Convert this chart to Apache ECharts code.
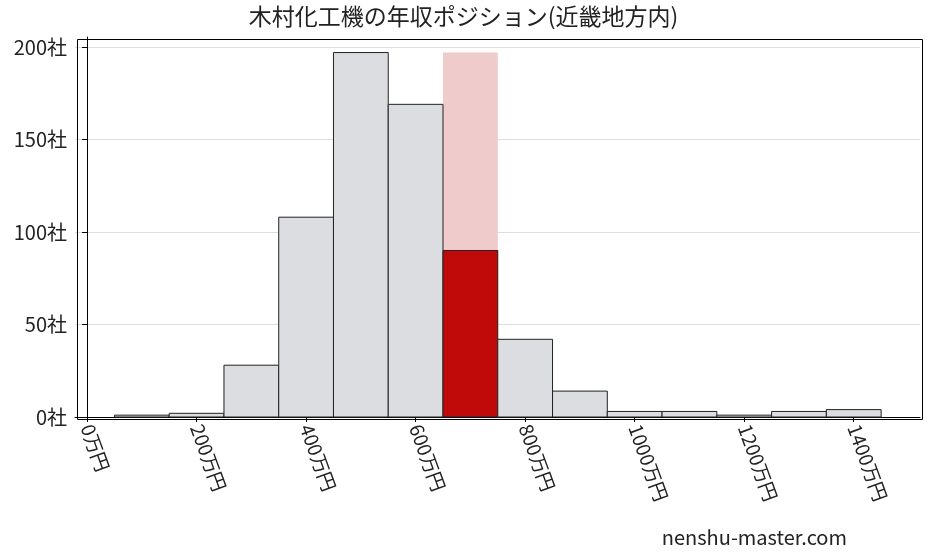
<!DOCTYPE html>
<html>
<head>
<meta charset="utf-8">
<script src="https://cdn.jsdelivr.net/npm/echarts@6/dist/echarts.min.js"></script>
<style>html,body{margin:0;padding:0;background:#fff}#chart{width:927px;height:557px}</style>
</head>
<body>
<div id="chart"></div>
<script>
var binStarts = [50, 150, 250, 350, 450, 550, 650, 750, 850, 950, 1050, 1150, 1250, 1350];
var counts = [1, 2, 28, 108, 197, 169, 90, 42, 14, 3, 3, 1, 3, 4];
var highlightIndex = 6;
var highlightMax = 197;
var binWidth = 100;
var xTicks = [0, 200, 400, 600, 800, 1000, 1200, 1400];
var yTicks = [0, 50, 100, 150, 200];

var font = "'Noto Sans CJK JP', sans-serif";
var chart = echarts.init(document.getElementById("chart"));

var barData = binStarts.map(function (s, i) {
  return [s, s + binWidth, counts[i], i];
});

function rectItem(params, api, fill, stroke) {
  var p0 = api.coord([api.value(0), 0]);
  var p1 = api.coord([api.value(1), api.value(2)]);
  return {
    type: "rect",
    shape: { x: p0[0], y: p1[1], width: p1[0] - p0[0], height: p0[1] - p1[1] },
    style: { fill: fill, stroke: stroke, lineWidth: stroke ? 1 : 0 }
  };
}

var option = {
  animation: false,
  title: {
    text: "木村化工機の年収ポジション(近畿地方内)",
    left: "center",
    top: 0,
    textStyle: { fontFamily: font, fontSize: 23, fontWeight: "normal", color: "#222" }
  },
  grid: { left: 75, right: 7, top: 37, bottom: 140 },
  xAxis: {
    type: "value",
    min: -22,
    max: 1521,
    splitLine: { show: false },
    axisLine: { onZero: false, lineStyle: { color: "#000" } },
    axisTick: { show: true, customValues: xTicks, lineStyle: { color: "#000" } },
    axisLabel: {
      fontFamily: font, fontSize: 19, color: "#222", rotate: -70,
      customValues: xTicks,
      formatter: function (v) { return v + "万円"; }
    }
  },
  yAxis: {
    type: "value",
    min: 0,
    max: 205.4,
    axisLine: { show: true, lineStyle: { color: "#000" } },
    axisTick: { show: true, customValues: yTicks, lineStyle: { color: "#000" } },
    splitLine: { lineStyle: { color: "#ddd" } },
    axisLabel: {
      fontFamily: font, fontSize: 20, color: "#222",
      customValues: yTicks,
      formatter: function (v) { return v + "社"; }
    }
  },
  graphic: [{
    type: "text", right: 80, bottom: 10,
    style: { text: "nenshu-master.com", font: "20px " + font, fill: "#222" }
  }, {
    type: "rect", left: 75, top: 37,
    shape: { width: 845, height: 380 },
    style: { fill: "none", stroke: "#000", lineWidth: 1 }, z: 100
  }],
  series: [{
    type: "custom",
    data: [[binStarts[highlightIndex], binStarts[highlightIndex] + binWidth, highlightMax]],
    encode: { x: [0, 1], y: 2 },
    renderItem: function (params, api) { return rectItem(params, api, "#f0cbcc", null); },
    z: 1
  }, {
    type: "custom",
    data: barData,
    encode: { x: [0, 1], y: 2 },
    renderItem: function (params, api) {
      var red = api.value(3) === highlightIndex;
      return rectItem(params, api, red ? "#c00a0a" : "#dcdde0", "#222");
    },
    z: 2
  }]
};
chart.setOption(option);
</script>
</body>
</html>
